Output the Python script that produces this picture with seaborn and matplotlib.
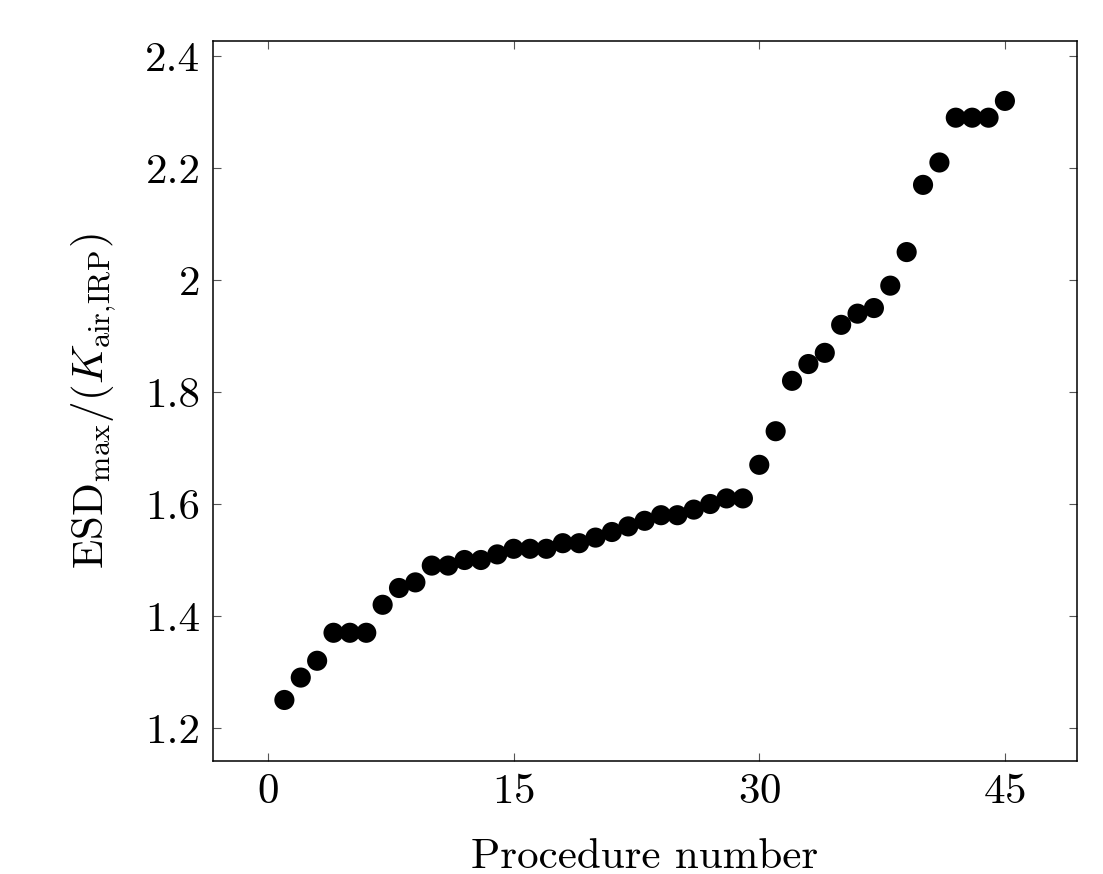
import numpy as np
import pandas as pd
import matplotlib
matplotlib.use("Agg")
import matplotlib.pyplot as plt
import seaborn as sns

# Data
procedure = list(range(1, 46))
esd_ratio = [1.25, 1.29, 1.32, 1.37, 1.37, 1.37, 1.42, 1.45, 1.46, 1.49,
             1.49, 1.50, 1.50, 1.51, 1.52, 1.52, 1.52, 1.53, 1.53, 1.54,
             1.55, 1.56, 1.57, 1.58, 1.58, 1.59, 1.60, 1.61, 1.61, 1.67,
             1.73, 1.82, 1.85, 1.87, 1.92, 1.94, 1.95, 1.99, 2.05, 2.17,
             2.21, 2.29, 2.29, 2.29, 2.32]
x_ticks = [0, 15, 30, 45]
y_ticks = [1.2, 1.4, 1.6, 1.8, 2.0, 2.2, 2.4]
y_ticklabels = ["1.2", "1.4", "1.6", "1.8", "2", "2.2", "2.4"]

df = pd.DataFrame({"procedure": procedure, "esd": esd_ratio})

sns.set_style("ticks")
plt.rcParams["font.family"] = ["cmr10", "DejaVu Serif"]
plt.rcParams["mathtext.fontset"] = "cm"
plt.rcParams["axes.formatter.use_mathtext"] = True
plt.rcParams["text.color"] = "black"
plt.rcParams["axes.labelcolor"] = "black"

fig = plt.figure(figsize=(11.03, 8.74), dpi=100)
ax = fig.add_axes([0.1931, 0.1293, 0.7833, 0.8238])

sns.scatterplot(data=df, x="procedure", y="esd", ax=ax, color="black",
                s=210, edgecolor="none", legend=False)

ax.set_xlim(-3.36, 49.4)
ax.set_ylim(1.141, 2.427)
ax.set_xticks(x_ticks)
ax.set_yticks(y_ticks)
ax.set_yticklabels(y_ticklabels)
ax.tick_params(direction="in", length=6, width=0.8, top=True, right=True,
               labelsize=31, pad=9, color="#555555", labelcolor="black")
for sp in ax.spines.values():
    sp.set_linewidth(1.1)
    sp.set_color("black")

ax.set_xlabel("Procedure number", fontsize=31, labelpad=20)
ax.set_ylabel(r"$\mathrm{ESD}_{\mathrm{max}}/(K_{\mathrm{air{,}IRP}})$",
              fontsize=31, labelpad=20)

fig.savefig("out.png", dpi=100)
